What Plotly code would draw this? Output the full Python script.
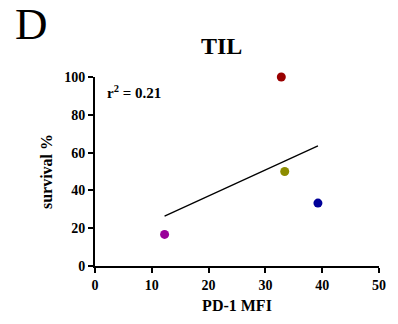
import numpy as np
import plotly.graph_objects as go

pd1_mfi = [32.8, 33.4, 39.25, 12.25]
survival = [100, 50, 33.3, 16.7]
point_colors = ["#990000", "#8c8c00", "#000099", "#990099"]
x_ticks = [0, 10, 20, 30, 40, 50]
y_ticks = [0, 20, 40, 60, 80, 100]
r2_label = "r<sup>2</sup> = 0.21"

slope, intercept = np.polyfit(pd1_mfi, survival, 1)
fit_x = [min(pd1_mfi), max(pd1_mfi)]
fit_y = [slope * v + intercept for v in fit_x]

FONT = "Liberation Serif, Times New Roman, serif"

fig = go.Figure()
fig.add_trace(go.Scatter(x=fit_x, y=fit_y, mode="lines",
                         line=dict(color="black", width=1.3),
                         showlegend=False, hoverinfo="skip"))
fig.add_trace(go.Scatter(x=pd1_mfi, y=survival, mode="markers",
                         marker=dict(color=point_colors, size=9, line=dict(width=0)),
                         cliponaxis=False, showlegend=False))

axis_common = dict(showline=True, linecolor="black", linewidth=2,
                   ticks="outside", ticklen=5, tickwidth=2, tickcolor="black",
                   showgrid=False, zeroline=False,
                   tickfont=dict(family=FONT, size=14, color="black", weight="bold"))

fig.update_xaxes(range=[0, 50], tickvals=x_ticks,
                 ticktext=[str(v) for v in x_ticks],
                 title=dict(text="<b>PD-1 MFI</b>", standoff=8,
                            font=dict(family=FONT, size=16, color="black")),
                 **axis_common)
fig.update_yaxes(range=[0, 100], tickvals=y_ticks,
                 ticktext=[str(v) for v in y_ticks],
                 title=dict(text="<b>survival %</b>", standoff=8,
                            font=dict(family=FONT, size=16, color="black")),
                 **axis_common)

pw = 398 - 95 - 16
ph = 324 - 77 - 55

fig.add_annotation(x=0, y=1, xref="paper", yref="paper", xshift=10, yshift=-4,
                   text=f"<b>{r2_label}</b>", showarrow=False, xanchor="left", yanchor="top",
                   font=dict(family=FONT, size=15, color="black"))
fig.add_annotation(x=(223 - 95) / pw, y=(324 - 55 - 46) / ph, xref="paper", yref="paper",
                   text="<b>TIL</b>", showarrow=False, xanchor="center", yanchor="middle",
                   font=dict(family=FONT, size=24, color="black"))
fig.add_annotation(x=(31 - 95) / pw, y=(324 - 55 - 23) / ph, xref="paper", yref="paper",
                   text="D", showarrow=False, xanchor="center", yanchor="middle",
                   font=dict(family=FONT, size=45, color="black"))

fig.update_layout(width=398, height=324,
                  margin=dict(l=95, r=16, t=77, b=55),
                  paper_bgcolor="white", plot_bgcolor="white")

fig.write_html("out.html")
